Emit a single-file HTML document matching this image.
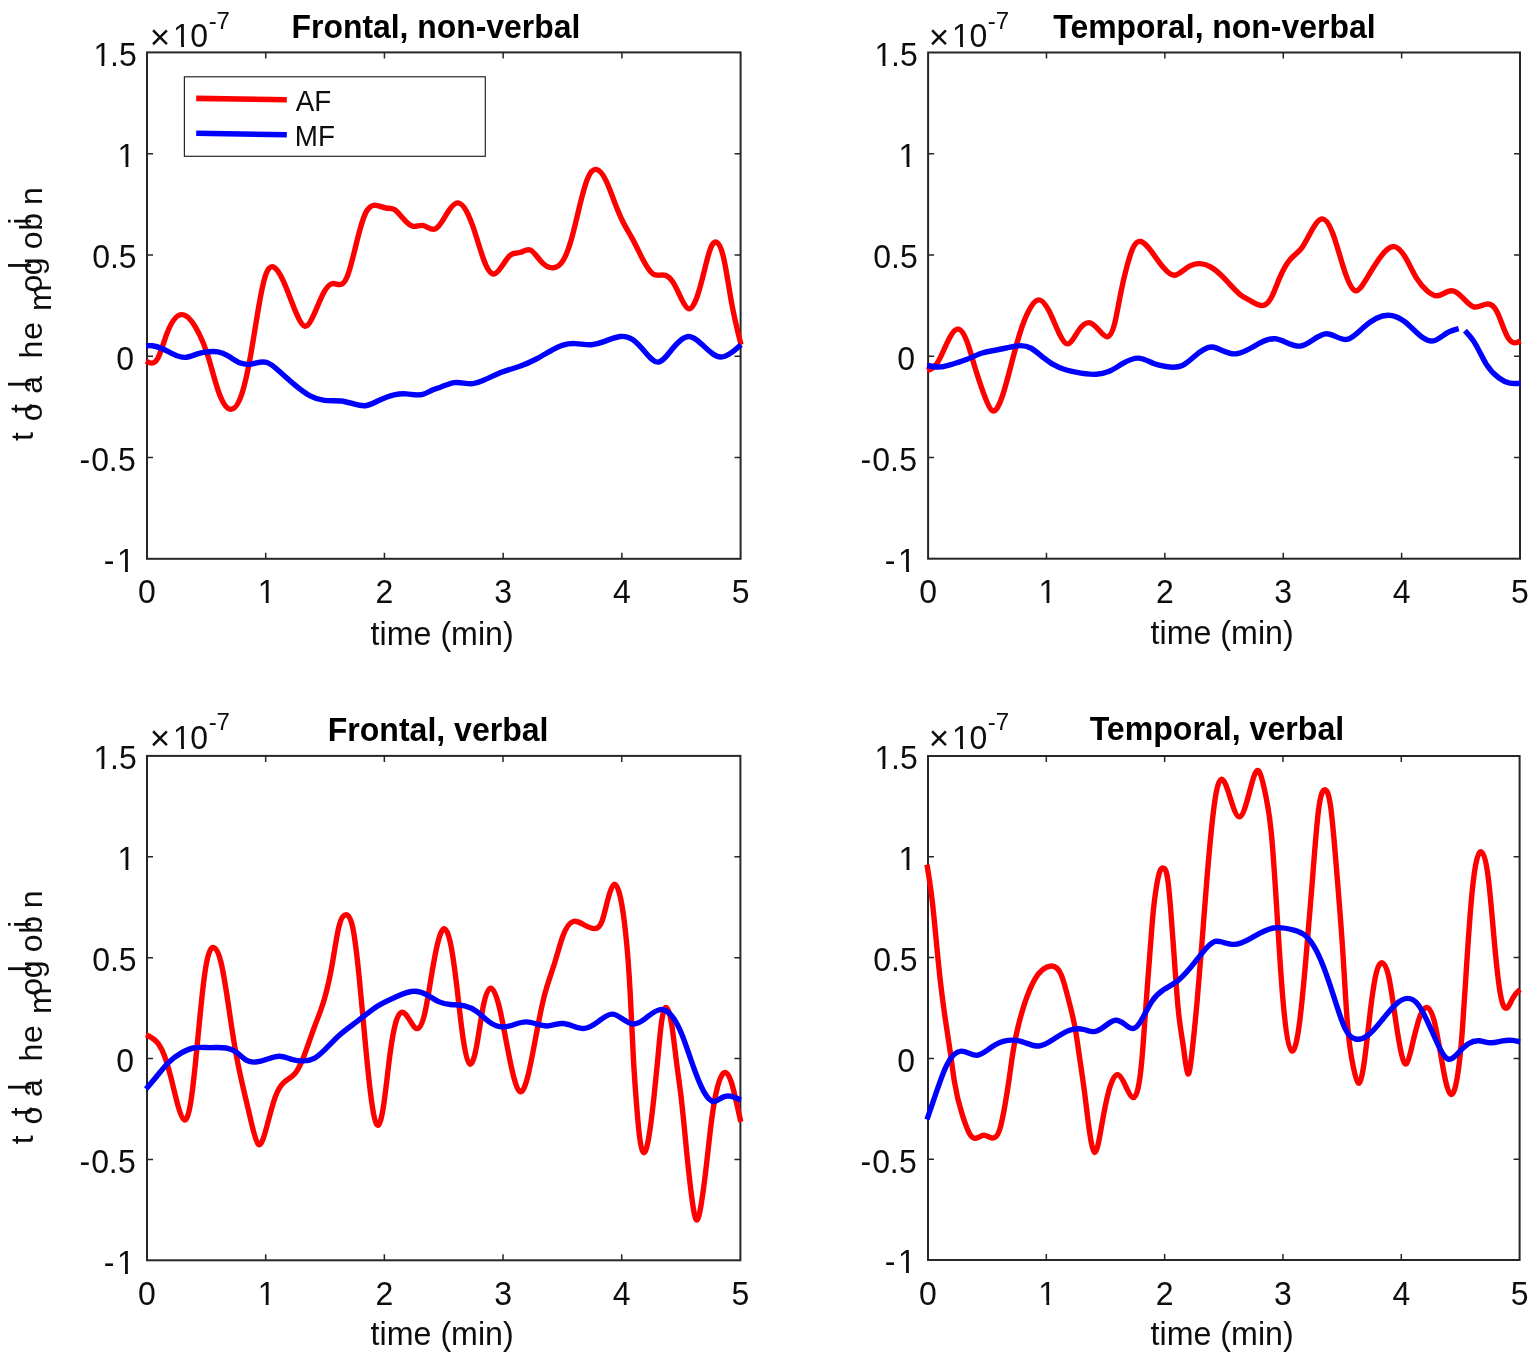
<!DOCTYPE html><html><head><meta charset="utf-8"><title>Total hemoglobin: AF vs MF</title><style>html,body{margin:0;padding:0;background:#fff;overflow:hidden}svg{display:block}text{font-family:"Liberation Sans",Arial,sans-serif}</style></head><body>
<svg width="1535" height="1367" viewBox="0 0 1535 1367">
<rect width="1535" height="1367" fill="#fff"/>
<path d="M265.72,558.8v-6M265.72,52.4v6M384.44,558.8v-6M384.44,52.4v6M503.16,558.8v-6M503.16,52.4v6M621.88,558.8v-6M621.88,52.4v6M147,153.68h6M740.6,153.68h-6M147,254.96h6M740.6,254.96h-6M147,356.24h6M740.6,356.24h-6M147,457.52h6M740.6,457.52h-6" stroke="#262626" stroke-width="1.5" fill="none"/>
<rect x="147" y="52.4" width="593.6" height="506.4" fill="none" stroke="#262626" stroke-width="2"/>
<g fill="none" stroke-width="5.4" stroke-linejoin="round" stroke-linecap="butt">
<path stroke="#ff0000" d="M146,361.1C147.77,362.02 149.53,362.94 151.3,363.1C153.33,363.28 155.37,362.44 157.4,359C160.47,353.81 163.53,342.69 166.6,334.4C172.43,318.63 178.27,313.09 184.1,315C189.2,316.67 194.3,324.04 199.4,334.4C202.13,339.95 204.87,346.37 207.6,354.9C211.03,365.62 214.47,379.67 217.9,389.8C222,401.9 226.1,408.39 230.2,409.2C234.3,410.01 238.4,405.13 242.5,391.8C245.23,382.91 247.97,370.27 250.7,354.9C253.43,339.53 256.17,321.42 258.9,305.7C260.93,294 262.97,283.63 265,277C267.73,268.09 270.47,265.95 273.2,266.8C276.6,267.86 280,273.56 283.4,281.1C287.5,290.19 291.6,301.96 295.7,311.9C298.8,319.42 301.9,325.89 305,326.2C308.07,326.5 311.13,320.77 314.2,313.9C317.6,306.29 321,297.28 324.4,291.4C327.13,286.67 329.87,283.96 332.6,283.6C335.67,283.2 338.73,285.75 341.8,284.2C343.53,283.32 345.27,281.13 347,277C349.03,272.16 351.07,264.65 353.1,256.6C355.17,248.42 357.23,239.69 359.3,232C361.33,224.43 363.37,217.87 365.4,213.5C368.13,207.63 370.87,205.72 373.6,205.3C377.7,204.67 381.8,207.37 385.9,208C388.63,208.42 391.37,207.92 394.1,209.4C396.83,210.88 399.57,214.34 402.3,217.6C405.7,221.65 409.1,225.39 412.5,226.2C415.93,227.02 419.37,224.85 422.8,225.4C426.9,226.06 431,230.59 435.1,228.9C437.07,228.09 439.03,225.84 441,223C443.4,219.53 445.8,215.18 448.2,211.5C451.47,206.5 454.73,202.75 458,202.9C460.87,203.03 463.73,206.17 466.6,211.5C469.33,216.58 472.07,223.65 474.8,232C477.9,241.47 481,252.58 484.1,260.7C487.03,268.38 489.97,273.39 492.9,274C495.77,274.6 498.63,271 501.5,266.8C504.57,262.31 507.63,257.14 510.7,254.9C513.77,252.66 516.83,253.35 519.9,252.5C523.33,251.55 526.77,248.66 530.2,250C533.6,251.32 537,256.79 540.4,260.7C544.83,265.8 549.27,268.27 553.7,267.8C556.8,267.47 559.9,265.7 563,260.7C565.7,256.34 568.4,249.53 571.1,240.2C573.83,230.76 576.57,218.74 579.3,207.4C582.03,196.06 584.77,185.38 587.5,178.7C590.6,171.12 593.7,168.68 596.8,169.5C599.87,170.31 602.93,174.3 606,180.7C608.73,186.4 611.47,194.02 614.2,201.2C616.93,208.38 619.67,215.12 622.4,220.7C625.8,227.65 629.2,232.8 632.6,239.1C636.03,245.46 639.47,252.98 642.9,259.6C646.3,266.16 649.7,271.83 653.1,274C657.2,276.62 661.3,274.14 665.4,275.4C668.13,276.24 670.87,278.73 673.6,283.2C676.33,287.67 679.07,294.11 681.8,299.6C684.2,304.42 686.6,308.51 689,308.8C691.37,309.08 693.73,305.67 696.1,299.6C698.83,292.59 701.57,282.05 704.3,270.9C706.37,262.47 708.43,253.69 710.5,248.4C712.53,243.19 714.57,241.36 716.6,242.2C719,243.19 721.4,247.91 723.8,258.6C726.2,269.29 728.6,285.96 731,299.6C734.33,318.54 737.67,331.62 741,344.7"/>
<path stroke="#0000ff" d="M146,345.7C148.1,345.59 150.2,345.48 152.3,345.7C155.7,346.05 159.1,347.26 162.5,348.8C165.93,350.35 169.37,352.23 172.8,353.9C176.9,355.89 181,357.57 185.1,357.4C189.2,357.23 193.3,355.21 197.4,353.9C200.8,352.81 204.2,352.21 207.6,351.8C211.03,351.39 214.47,351.17 217.9,351.8C221.3,352.43 224.7,353.89 228.1,355.9C232.2,358.32 236.3,361.52 240.4,363.1C243.83,364.42 247.27,364.61 250.7,364.1C256.13,363.3 261.57,360.75 267,362.5C271.1,363.82 275.2,367.57 279.3,371.3C284.77,376.27 290.23,381.18 295.7,385.7C300.5,389.67 305.3,393.35 310.1,395.9C314.87,398.44 319.63,399.87 324.4,400.4C329.87,401.01 335.33,400.42 340.8,401C344.9,401.43 349,402.51 353.1,403.7C357.2,404.89 361.3,406.17 365.4,405.7C369.5,405.23 373.6,402.99 377.7,401C383.17,398.35 388.63,396.13 394.1,394.9C398.2,393.98 402.3,393.62 406.4,393.9C411.87,394.28 417.33,395.81 422.8,394.3C426.2,393.36 429.6,391.24 433,389.8C435.67,388.67 438.33,387.95 441,387C445.43,385.41 449.87,383.17 454.3,382.6C460.47,381.8 466.63,384.24 472.8,383.6C476.2,383.25 479.6,381.96 483,380.5C489.17,377.86 495.33,374.68 501.5,372.3C507.63,369.93 513.77,368.35 519.9,366.2C525.37,364.28 530.83,361.9 536.3,359C541.1,356.45 545.9,353.5 550.7,350.8C554.8,348.49 558.9,346.37 563,345.1C567.07,343.84 571.13,343.43 575.2,343.6C580.67,343.83 586.13,345.11 591.6,344.7C595.7,344.39 599.8,343.13 603.9,341.6C609.37,339.56 614.83,337.05 620.3,336.5C624.4,336.09 628.5,336.79 632.6,339.5C636.7,342.21 640.8,346.94 644.9,351.8C649.33,357.06 653.77,362.49 658.2,362.1C662.67,361.71 667.13,355.43 671.6,349.8C677.4,342.5 683.2,336.3 689,336.5C693.43,336.65 697.87,340.53 702.3,344.7C708.43,350.47 714.57,356.79 720.7,357C724.13,357.12 727.57,355.32 731,352.9C734.33,350.55 737.67,347.63 741,344.7"/>
</g>
<text x="138.1" y="603.3" font-size="32" fill="#0d0d0d" transform="matrix(1 0 0 1.063 0 -38.01)">0</text>
<text x="257.75" y="603.3" font-size="32" fill="#0d0d0d" transform="matrix(1 0 0 1.063 0 -38.01)">1</text>
<text x="375.54" y="603.3" font-size="32" fill="#0d0d0d" transform="matrix(1 0 0 1.063 0 -38.01)">2</text>
<text x="494.26" y="603.3" font-size="32" fill="#0d0d0d" transform="matrix(1 0 0 1.063 0 -38.01)">3</text>
<text x="612.98" y="603.3" font-size="32" fill="#0d0d0d" transform="matrix(1 0 0 1.063 0 -38.01)">4</text>
<text x="731.7" y="603.3" font-size="32" fill="#0d0d0d" transform="matrix(1 0 0 1.063 0 -38.01)">5</text>
<text x="93.4 109.9 118.95" y="65.76" font-size="32" fill="#0d0d0d" transform="matrix(1 0 0 1.063 0 -4.14)">1.5</text>
<text x="117.5" y="167.04" font-size="32" fill="#0d0d0d" transform="matrix(1 0 0 1.063 0 -10.52)">1</text>
<text x="92.25 109.9 118.85" y="268.32" font-size="32" fill="#0d0d0d" transform="matrix(1 0 0 1.063 0 -16.9)">0.5</text>
<text x="116.15" y="369.6" font-size="32" fill="#0d0d0d" transform="matrix(1 0 0 1.063 0 -23.28)">0</text>
<text x="79.5 91.15 108.8 118.05" y="470.88" font-size="32" fill="#0d0d0d" transform="matrix(1 0 0 1.063 0 -29.67)">-0.5</text>
<text x="103.7 117" y="572.16" font-size="32" fill="#0d0d0d" transform="matrix(1 0 0 1.063 0 -36.05)">-1</text>
<text x="149.77" y="49.06" font-size="35" fill="#0d0d0d">×</text>
<text x="173.12 190.25" y="47.5" font-size="32" fill="#0d0d0d" transform="matrix(1 0 0 1.063 0 -2.99)">10</text>
<text x="208.63 216.57" y="28.8" font-size="24" fill="#0d0d0d">-7</text>
<text x="370.62" y="644.8" font-size="32" fill="#0d0d0d" textLength="143.08" lengthAdjust="spacingAndGlyphs" transform="matrix(1 0 0 1.063 0 -40.62)">time (min)</text>
<text x="291.56" y="38.1" font-size="32" font-weight="bold" fill="#000" textLength="288.71" lengthAdjust="spacingAndGlyphs" transform="matrix(1 0 0 1.063 0 -2.4)">Frontal, non-verbal</text>
<path d="M1046.48,558.7v-6M1046.48,52.5v6M1164.86,558.7v-6M1164.86,52.5v6M1283.24,558.7v-6M1283.24,52.5v6M1401.62,558.7v-6M1401.62,52.5v6M928.1,153.74h6M1520,153.74h-6M928.1,254.98h6M1520,254.98h-6M928.1,356.22h6M1520,356.22h-6M928.1,457.46h6M1520,457.46h-6" stroke="#262626" stroke-width="1.5" fill="none"/>
<rect x="928.1" y="52.5" width="591.9" height="506.2" fill="none" stroke="#262626" stroke-width="2"/>
<g fill="none" stroke-width="5.4" stroke-linejoin="round" stroke-linecap="butt">
<path stroke="#ff0000" d="M927.1,370.6C930.2,369.61 933.3,368.63 936.4,364.4C939.8,359.76 943.2,351.22 946.6,343.9C950.57,335.36 954.53,328.48 958.5,329.2C961.37,329.72 964.23,334.22 967.1,341.9C969.83,349.22 972.57,359.44 975.3,368.5C978.03,377.56 980.77,385.48 983.5,393.1C986.37,401.09 989.23,408.75 992.1,410.5C995.4,412.51 998.7,406.68 1002,397.2C1004.73,389.35 1007.47,379 1010.2,368.5C1013.6,355.44 1017,342.14 1020.4,331.6C1023.13,323.13 1025.87,316.44 1028.6,311.1C1031.87,304.71 1035.13,300.24 1038.4,299.9C1041.97,299.53 1045.53,304.09 1049.1,311.1C1052.5,317.78 1055.9,326.68 1059.3,333.7C1062.2,339.69 1065.1,344.3 1068,343.9C1071.27,343.45 1074.53,336.63 1077.8,331.6C1081.9,325.28 1086,321.77 1090.1,322.8C1093.5,323.66 1096.9,327.64 1100.3,331.6C1102.7,334.39 1105.1,337.18 1107.5,336.8C1109.9,336.42 1112.3,332.89 1114.7,323.4C1116.73,315.36 1118.77,303.03 1120.8,292.7C1122.87,282.2 1124.93,273.75 1127,266.1C1129.03,258.58 1131.07,251.83 1133.1,247.6C1135.7,242.19 1138.3,240.88 1140.9,241.5C1144.47,242.36 1148.03,246.86 1151.6,251.7C1155.7,257.27 1159.8,263.3 1163.9,268.1C1167.3,272.08 1170.7,275.23 1174.1,275.3C1178.2,275.39 1182.3,271.02 1186.4,268.1C1190.83,264.95 1195.27,263.5 1199.7,263.6C1203.47,263.68 1207.23,264.88 1211,267.1C1214.67,269.26 1218.33,272.38 1222,276C1224.07,278.04 1226.13,280.24 1228.2,282.5C1232.3,286.97 1236.4,291.65 1240.5,294.8C1243.9,297.41 1247.3,298.96 1250.7,300.9C1254.8,303.24 1258.9,306.14 1263,305.4C1265.73,304.9 1268.47,302.79 1271.2,297.8C1273.93,292.81 1276.67,284.96 1279.4,278.4C1282.83,270.16 1286.27,263.97 1289.7,259.9C1293.8,255.04 1297.9,253.22 1302,247.6C1304.73,243.85 1307.47,238.42 1310.2,233.3C1314.3,225.61 1318.4,218.62 1322.5,218.9C1325.9,219.13 1329.3,224.36 1332.7,233.3C1336.13,242.32 1339.57,255.13 1343,266.1C1347.07,279.1 1351.13,289.53 1355.2,290.7C1358.63,291.69 1362.07,286.08 1365.5,280.4C1370.27,272.52 1375.03,264.52 1379.8,257.9C1384.6,251.24 1389.4,245.99 1394.2,246.6C1397.6,247.04 1401,250.41 1404.4,255.8C1408.5,262.29 1412.6,271.71 1416.7,278.4C1420.13,284.01 1423.57,287.71 1427,290.7C1430.4,293.67 1433.8,295.94 1437.2,295.8C1442,295.6 1446.8,290.59 1451.6,290.7C1455,290.78 1458.4,293.42 1461.8,296.8C1465.9,300.88 1470,306.02 1474.1,307C1478.87,308.14 1483.63,303.64 1488.4,304C1491.13,304.2 1493.87,306 1496.6,311.1C1500.03,317.5 1503.47,329.11 1506.9,335.7C1509.63,340.94 1512.37,343 1515.1,342.9C1516.87,342.83 1518.63,341.87 1520.4,340.9"/>
<path stroke="#0000ff" d="M927.1,365.5C931.57,366.37 936.03,367.24 940.5,366.9C944.6,366.58 948.7,365.24 952.8,364C957.57,362.55 962.33,361.23 967.1,359.3C971.9,357.35 976.7,354.78 981.5,353.2C985.6,351.85 989.7,351.23 993.8,350.5C997.9,349.77 1002,348.95 1006.1,348C1010.87,346.9 1015.63,345.63 1020.4,345.6C1023.83,345.58 1027.27,346.2 1030.7,348C1034.8,350.15 1038.9,353.99 1043,357.3C1048.43,361.69 1053.87,365.15 1059.3,367.5C1064.77,369.87 1070.23,371.11 1075.7,372.2C1082.53,373.56 1089.37,374.67 1096.2,374.3C1100.3,374.08 1104.4,373.33 1108.5,371.6C1113.3,369.58 1118.1,366.21 1122.9,363.4C1128.7,360.01 1134.5,357.43 1140.3,358.3C1144.73,358.97 1149.17,361.66 1153.6,363.4C1157.7,365.01 1161.8,365.82 1165.9,366.5C1171.37,367.41 1176.83,368.1 1182.3,365.5C1186.4,363.55 1190.5,359.75 1194.6,356.2C1200.4,351.18 1206.2,346.66 1212,347C1215.33,347.19 1218.67,348.99 1222,350.5C1226.8,352.67 1231.6,354.24 1236.4,353.8C1241.87,353.3 1247.33,350.2 1252.8,347C1260.3,342.61 1267.8,338.03 1275.3,338.8C1283.83,339.68 1292.37,347.47 1300.9,346C1309.47,344.52 1318.03,333.69 1326.6,333.7C1333.4,333.71 1340.2,340.54 1347,339.4C1352.47,338.49 1357.93,332.43 1363.4,327.5C1371.6,320.11 1379.8,315.27 1388,315.2C1393.47,315.15 1398.93,317.22 1404.4,321.4C1413.97,328.71 1423.53,342.48 1433.1,340.9C1437.9,340.11 1442.7,335.45 1447.5,332.7C1451.23,330.56 1454.97,329.58 1458.7,328.6"/>
<path stroke="#0000ff" d="M1464.9,330.6C1467.97,333.82 1471.03,337.04 1474.1,341.9C1478.2,348.39 1482.3,357.81 1486.4,364.4C1490.5,370.99 1494.6,374.75 1498.7,377.7C1502.1,380.14 1505.5,382.03 1508.9,382.9C1512.73,383.89 1516.57,383.59 1520.4,383.3"/>
</g>
<text x="919.2" y="603.2" font-size="32" fill="#0d0d0d" transform="matrix(1 0 0 1.063 0 -38)">0</text>
<text x="1038.51" y="603.2" font-size="32" fill="#0d0d0d" transform="matrix(1 0 0 1.063 0 -38)">1</text>
<text x="1155.96" y="603.2" font-size="32" fill="#0d0d0d" transform="matrix(1 0 0 1.063 0 -38)">2</text>
<text x="1274.34" y="603.2" font-size="32" fill="#0d0d0d" transform="matrix(1 0 0 1.063 0 -38)">3</text>
<text x="1392.72" y="603.2" font-size="32" fill="#0d0d0d" transform="matrix(1 0 0 1.063 0 -38)">4</text>
<text x="1511.1" y="603.2" font-size="32" fill="#0d0d0d" transform="matrix(1 0 0 1.063 0 -38)">5</text>
<text x="874.5 891 900.05" y="65.86" font-size="32" fill="#0d0d0d" transform="matrix(1 0 0 1.063 0 -4.15)">1.5</text>
<text x="898.6" y="167.1" font-size="32" fill="#0d0d0d" transform="matrix(1 0 0 1.063 0 -10.53)">1</text>
<text x="873.35 891 899.95" y="268.34" font-size="32" fill="#0d0d0d" transform="matrix(1 0 0 1.063 0 -16.91)">0.5</text>
<text x="897.25" y="369.58" font-size="32" fill="#0d0d0d" transform="matrix(1 0 0 1.063 0 -23.28)">0</text>
<text x="860.6 872.25 889.9 899.15" y="470.82" font-size="32" fill="#0d0d0d" transform="matrix(1 0 0 1.063 0 -29.66)">-0.5</text>
<text x="884.8 898.1" y="572.06" font-size="32" fill="#0d0d0d" transform="matrix(1 0 0 1.063 0 -36.04)">-1</text>
<text x="928.87" y="49.06" font-size="35" fill="#0d0d0d">×</text>
<text x="952.12 969.55" y="47.5" font-size="32" fill="#0d0d0d" transform="matrix(1 0 0 1.063 0 -2.99)">10</text>
<text x="987.73 995.67" y="28.8" font-size="24" fill="#0d0d0d">-7</text>
<text x="1150.62" y="644.3" font-size="32" fill="#0d0d0d" textLength="143.08" lengthAdjust="spacingAndGlyphs" transform="matrix(1 0 0 1.063 0 -40.59)">time (min)</text>
<text x="1053.34" y="37.6" font-size="32" font-weight="bold" fill="#000" textLength="322.23" lengthAdjust="spacingAndGlyphs" transform="matrix(1 0 0 1.063 0 -2.37)">Temporal, non-verbal</text>
<path d="M265.68,1260.3v-6M265.68,755.9v6M384.36,1260.3v-6M384.36,755.9v6M503.04,1260.3v-6M503.04,755.9v6M621.72,1260.3v-6M621.72,755.9v6M147,856.78h6M740.4,856.78h-6M147,957.66h6M740.4,957.66h-6M147,1058.54h6M740.4,1058.54h-6M147,1159.42h6M740.4,1159.42h-6" stroke="#262626" stroke-width="1.5" fill="none"/>
<rect x="147" y="755.9" width="593.4" height="504.4" fill="none" stroke="#262626" stroke-width="2"/>
<g fill="none" stroke-width="5.4" stroke-linejoin="round" stroke-linecap="butt">
<path stroke="#ff0000" d="M146,1034.7C150.13,1036.43 154.27,1038.15 158.4,1043.9C160.47,1046.77 162.53,1050.65 164.6,1056.2C166.63,1061.66 168.67,1068.73 170.7,1076.7C173.1,1086.1 175.5,1096.74 177.9,1105.4C179.97,1112.86 182.03,1118.84 184.1,1119.8C186.13,1120.74 188.17,1116.82 190.2,1105.4C191.9,1095.85 193.6,1081.07 195.3,1064.4C197.03,1047.4 198.77,1028.44 200.5,1011.1C202.2,994.09 203.9,978.64 205.6,968.1C208.33,951.16 211.07,946.93 213.8,947.6C216.17,948.18 218.53,952.43 220.9,962C223.3,971.7 225.7,986.88 228.1,1003C230.17,1016.88 232.23,1031.48 234.3,1043.9C237.03,1060.33 239.77,1072.97 242.5,1084.9C245.23,1096.83 247.97,1108.04 250.7,1119.8C253.27,1130.85 255.83,1142.38 258.4,1144.3C261.27,1146.44 264.13,1136.6 267,1125.9C269.73,1115.7 272.47,1104.73 275.2,1097.2C277.93,1089.67 280.67,1085.57 283.4,1082.9C287.5,1078.9 291.6,1078.1 295.7,1072.6C298.43,1068.93 301.17,1063.17 303.9,1056.2C307.33,1047.44 310.77,1036.78 314.2,1027.5C317.6,1018.31 321,1010.49 324.4,998.9C327.13,989.59 329.87,977.84 332.6,962C334.67,950.02 336.73,935.71 338.8,927.1C341.17,917.24 343.53,914.88 345.9,914.8C348.3,914.72 350.7,916.99 353.1,929.2C355.17,939.71 357.23,957.6 359.3,978.4C361.33,998.87 363.37,1022.16 365.4,1043.9C367.47,1066 369.53,1086.5 371.6,1101.3C373.43,1114.43 375.27,1123.08 377.1,1124.9C379.37,1127.15 381.63,1118.96 383.9,1103.4C385.93,1089.44 387.97,1069.54 390,1054.2C392.03,1038.86 394.07,1028.06 396.1,1021.4C398.17,1014.63 400.23,1012.12 402.3,1012.2C405.03,1012.31 407.77,1016.94 410.5,1021.4C412.9,1025.31 415.3,1029.09 417.7,1028.6C420.07,1028.11 422.43,1023.48 424.8,1013.2C426.87,1004.23 428.93,990.95 431,978.4C433.03,966.05 435.07,954.41 437.1,945.6C439.63,934.63 442.17,928.07 444.7,928.8C446.53,929.33 448.37,933.67 450.2,942C452.27,951.39 454.33,965.83 456.4,983C458.43,999.9 460.47,1019.44 462.5,1034.2C464.9,1051.63 467.3,1062.4 469.7,1063.9C472.1,1065.4 474.5,1057.64 476.9,1044.4C478.93,1033.19 480.97,1018.05 483,1007.5C485.6,994.01 488.2,988.03 490.8,988.1C493.67,988.17 496.53,995.6 499.4,1007.5C502.13,1018.85 504.87,1034.27 507.6,1048.5C509.67,1059.26 511.73,1069.33 513.8,1077.2C515.83,1084.94 517.87,1090.54 519.9,1091.6C522.63,1093.03 525.37,1086.26 528.1,1075.2C530.83,1064.14 533.57,1048.78 536.3,1034.2C539.03,1019.62 541.77,1005.82 544.5,995.2C547.93,981.87 551.37,973.56 554.8,962.5C557.53,953.69 560.27,943.14 563,935.8C566.4,926.67 569.8,922.52 573.2,921.5C576.6,920.48 580,922.57 583.4,924.5C587.17,926.63 590.93,928.55 594.7,928.6C597.1,928.63 599.5,927.9 601.9,921.5C603.93,916.08 605.97,906.59 608,898.9C610.2,890.58 612.4,884.38 614.6,884.2C616.5,884.04 618.4,888.37 620.3,896.9C622.03,904.68 623.77,915.94 625.5,931.7C627.07,945.94 628.63,963.85 630.2,993.2C631.3,1013.81 632.4,1040.06 633.5,1060C634.4,1076.31 635.3,1088.41 636.2,1100C637.13,1112.02 638.07,1123.51 639,1132C640.4,1144.73 641.8,1150.7 643.2,1152.2C644.97,1154.09 646.73,1148.85 648.5,1139C650.23,1129.34 651.97,1115.25 653.7,1099.5C654.97,1087.99 656.23,1075.59 657.5,1062C658.77,1048.41 660.03,1033.61 661.3,1023.9C663,1010.86 664.7,1006.98 666.4,1007.5C668.13,1008.03 669.87,1013.15 671.6,1023.9C673.23,1034.03 674.87,1049.18 676.5,1062C678.13,1074.82 679.77,1085.33 681.4,1099.5C683.17,1114.83 684.93,1134.45 686.7,1152.2C688.43,1169.62 690.17,1185.23 691.9,1198.3C693.23,1208.35 694.57,1216.89 695.9,1219.3C697.63,1222.43 699.37,1215.2 701.1,1204.9C702.87,1194.4 704.63,1180.72 706.4,1165.3C708.17,1149.88 709.93,1132.71 711.7,1119.3C713.47,1105.89 715.23,1096.25 717,1089C719.63,1078.2 722.27,1072.73 724.9,1072.5C727.07,1072.31 729.23,1075.66 731.4,1082.4C733.17,1087.89 734.93,1095.63 736.7,1103.5C738.07,1109.58 739.43,1115.74 740.8,1121.9"/>
<path stroke="#0000ff" d="M146,1089C149.47,1084.96 152.93,1080.93 156.4,1076.7C160.5,1071.7 164.6,1066.43 168.7,1062.4C172.8,1058.37 176.9,1055.57 181,1053.2C185.1,1050.83 189.2,1048.88 193.3,1048C198.77,1046.82 204.23,1047.53 209.7,1047.6C215.17,1047.67 220.63,1047.11 226.1,1048C229.5,1048.55 232.9,1049.67 236.3,1052.1C239.73,1054.56 243.17,1058.36 246.6,1060.3C249.67,1062.03 252.73,1062.27 255.8,1062C259.53,1061.68 263.27,1060.61 267,1059.3C271.1,1057.86 275.2,1056.14 279.3,1056.2C283.4,1056.26 287.5,1058.1 291.6,1059.3C295.7,1060.5 299.8,1061.05 303.9,1060.9C307.33,1060.77 310.77,1060.15 314.2,1058.3C317.6,1056.47 321,1053.44 324.4,1050.1C329.2,1045.39 334,1040.08 338.8,1035.7C344.93,1030.11 351.07,1026.05 357.2,1021.4C364.03,1016.22 370.87,1010.32 377.7,1006C383.83,1002.12 389.97,999.51 396.1,996.8C402.27,994.08 408.43,991.26 414.6,991.3C418.7,991.33 422.8,992.61 426.9,994.8C431,996.99 435.1,1000.07 439.2,1001.9C442.87,1003.54 446.53,1004.17 450.2,1004.5C455,1004.93 459.8,1004.83 464.6,1005.9C468.7,1006.81 472.8,1008.58 476.9,1011.6C481,1014.62 485.1,1018.9 489.2,1021.9C493.97,1025.38 498.73,1027.13 503.5,1027C511.03,1026.79 518.57,1021.86 526.1,1021.9C532.93,1021.93 539.77,1026.04 546.6,1026C552.07,1025.97 557.53,1023.28 563,1023.5C570.17,1023.79 577.33,1029.1 584.5,1028.4C588.93,1027.97 593.37,1025.23 597.8,1021.9C602.57,1018.32 607.33,1014.04 612.1,1014.1C615.53,1014.15 618.97,1016.44 622.4,1018.8C625.8,1021.13 629.2,1023.52 632.6,1023.9C636.7,1024.36 640.8,1021.89 644.9,1018.8C650.03,1014.93 655.17,1010.1 660.3,1009.6C664.07,1009.24 667.83,1011.21 671.6,1015.7C675,1019.75 678.4,1025.86 681.8,1034.2C685.2,1042.54 688.6,1053.11 692,1062.9C695.93,1074.22 699.87,1084.5 703.8,1091.6C707.3,1097.92 710.8,1101.73 714.3,1101.5C716.93,1101.33 719.57,1098.88 722.2,1097.5C724.83,1096.12 727.47,1095.82 730.1,1096.2C733.67,1096.71 737.23,1098.45 740.8,1100.2"/>
</g>
<text x="138.1" y="1304.8" font-size="32" fill="#0d0d0d" transform="matrix(1 0 0 1.063 0 -82.2)">0</text>
<text x="257.71" y="1304.8" font-size="32" fill="#0d0d0d" transform="matrix(1 0 0 1.063 0 -82.2)">1</text>
<text x="375.46" y="1304.8" font-size="32" fill="#0d0d0d" transform="matrix(1 0 0 1.063 0 -82.2)">2</text>
<text x="494.14" y="1304.8" font-size="32" fill="#0d0d0d" transform="matrix(1 0 0 1.063 0 -82.2)">3</text>
<text x="612.82" y="1304.8" font-size="32" fill="#0d0d0d" transform="matrix(1 0 0 1.063 0 -82.2)">4</text>
<text x="731.5" y="1304.8" font-size="32" fill="#0d0d0d" transform="matrix(1 0 0 1.063 0 -82.2)">5</text>
<text x="93.4 109.9 118.95" y="769.26" font-size="32" fill="#0d0d0d" transform="matrix(1 0 0 1.063 0 -48.46)">1.5</text>
<text x="117.5" y="870.14" font-size="32" fill="#0d0d0d" transform="matrix(1 0 0 1.063 0 -54.82)">1</text>
<text x="92.25 109.9 118.85" y="971.02" font-size="32" fill="#0d0d0d" transform="matrix(1 0 0 1.063 0 -61.17)">0.5</text>
<text x="116.15" y="1071.9" font-size="32" fill="#0d0d0d" transform="matrix(1 0 0 1.063 0 -67.53)">0</text>
<text x="79.5 91.15 108.8 118.05" y="1172.78" font-size="32" fill="#0d0d0d" transform="matrix(1 0 0 1.063 0 -73.89)">-0.5</text>
<text x="103.7 117" y="1273.66" font-size="32" fill="#0d0d0d" transform="matrix(1 0 0 1.063 0 -80.24)">-1</text>
<text x="149.77" y="750.16" font-size="35" fill="#0d0d0d">×</text>
<text x="173.12 190.25" y="748.9" font-size="32" fill="#0d0d0d" transform="matrix(1 0 0 1.063 0 -47.18)">10</text>
<text x="208.63 216.57" y="730.2" font-size="24" fill="#0d0d0d">-7</text>
<text x="370.62" y="1345.4" font-size="32" fill="#0d0d0d" textLength="143.08" lengthAdjust="spacingAndGlyphs" transform="matrix(1 0 0 1.063 0 -84.76)">time (min)</text>
<text x="327.76" y="740.7" font-size="32" font-weight="bold" fill="#000" textLength="220.71" lengthAdjust="spacingAndGlyphs" transform="matrix(1 0 0 1.063 0 -46.66)">Frontal, verbal</text>
<path d="M1046.32,1260v-6M1046.32,756v6M1164.64,1260v-6M1164.64,756v6M1282.96,1260v-6M1282.96,756v6M1401.28,1260v-6M1401.28,756v6M928,856.8h6M1519.6,856.8h-6M928,957.6h6M1519.6,957.6h-6M928,1058.4h6M1519.6,1058.4h-6M928,1159.2h6M1519.6,1159.2h-6" stroke="#262626" stroke-width="1.5" fill="none"/>
<rect x="928" y="756" width="591.6" height="504" fill="none" stroke="#262626" stroke-width="2"/>
<g fill="none" stroke-width="5.4" stroke-linejoin="round" stroke-linecap="butt">
<path stroke="#ff0000" d="M927,864.6C928.77,875.36 930.53,886.13 932.3,901.5C934.33,919.19 936.37,942.99 938.4,963C940.47,983.34 942.53,999.77 944.6,1014.2C946.63,1028.4 948.67,1040.67 950.7,1055.2C951.9,1063.77 953.1,1073.13 954.3,1080.8C957,1098.05 959.7,1106.75 962.4,1115.1C965.1,1123.45 967.8,1131.47 970.5,1135.3C972.17,1137.66 973.83,1138.43 975.5,1138.3C978.2,1138.09 980.9,1135.52 983.6,1135.3C986.3,1135.08 989,1137.21 991.7,1137.9C994.4,1138.59 997.1,1137.85 999.8,1129.2C1001.53,1123.65 1003.27,1114.84 1005,1105C1006.33,1097.43 1007.67,1089.25 1009,1080C1010.33,1070.75 1011.67,1060.44 1013,1052C1014.67,1041.45 1016.33,1033.84 1018,1027C1020.17,1018.11 1022.33,1010.54 1024.5,1003.9C1027.93,993.38 1031.37,985.19 1034.8,979.3C1040.23,969.97 1045.67,966.39 1051.1,966C1054.53,965.76 1057.97,966.79 1061.4,975.2C1064.13,981.9 1066.87,993.27 1069.6,1003.9C1071.57,1011.55 1073.53,1018.81 1075.5,1030.3C1076.5,1036.14 1077.5,1043.07 1078.5,1050C1079.5,1056.93 1080.5,1063.85 1081.5,1070.7C1082.5,1077.55 1083.5,1084.33 1084.5,1092C1085.53,1099.93 1086.57,1108.81 1087.6,1117.1C1089.97,1136.1 1092.33,1152.02 1094.7,1152.5C1097.03,1152.98 1099.37,1138.45 1101.7,1125.2C1104.07,1111.76 1106.43,1099.65 1108.8,1090.9C1111.83,1079.69 1114.87,1074.02 1117.9,1074.7C1120.6,1075.3 1123.3,1080.93 1126,1086.8C1128.33,1091.87 1130.67,1097.11 1133,1097.6C1134.7,1097.95 1136.4,1095.78 1138.1,1088.1C1139.37,1082.38 1140.63,1073.6 1141.9,1059.5C1142.87,1048.74 1143.83,1034.88 1144.8,1021.4C1145.73,1008.38 1146.67,995.71 1147.6,983.3C1148.57,970.45 1149.53,957.88 1150.5,945.2C1151.43,932.95 1152.37,920.59 1153.3,911C1154.27,901.06 1155.23,894.09 1156.2,888.1C1157.47,880.25 1158.73,874.1 1160,871C1161.13,868.23 1162.27,867.91 1163.4,868.1C1164.8,868.33 1166.2,869.34 1167.6,878.6C1168.57,885 1169.53,895.33 1170.5,907.1C1171.57,920.09 1172.63,934.82 1173.7,950C1175.23,971.82 1176.77,994.55 1178.3,1010C1180.13,1028.47 1181.97,1036.54 1183.8,1049.9C1185.17,1059.86 1186.53,1072.76 1187.9,1074C1189.37,1075.33 1190.83,1063.24 1192.3,1049.9C1193.9,1035.35 1195.5,1019.32 1197.1,1001.5C1198.7,983.68 1200.3,964.07 1201.9,943.6C1203.53,922.7 1205.17,900.91 1206.8,880.8C1208.4,861.1 1210,843 1211.6,827.6C1213.2,812.2 1214.8,799.5 1216.4,791.4C1218.03,783.13 1219.67,779.65 1221.3,779.3C1224.1,778.71 1226.9,787.34 1229.7,796.2C1232.93,806.44 1236.17,816.99 1239.4,816.8C1242.6,816.61 1245.8,805.9 1249,793.8C1252.23,781.57 1255.47,767.93 1258.7,770.9C1261.1,773.1 1263.5,784.46 1265.9,796.2C1267.67,804.84 1269.43,813.69 1271.2,831.7C1272.93,849.37 1274.67,875.85 1276.4,903.4C1277.6,922.47 1278.8,942.05 1280,960C1281,974.96 1282,988.78 1283,1000.4C1285.9,1034.11 1288.8,1049.32 1291.7,1050.9C1294.4,1052.37 1297.1,1042.02 1299.8,1020.6C1301.8,1004.73 1303.8,982.79 1305.8,960C1307.93,935.7 1310.07,910.44 1312.2,883C1314.27,856.42 1316.33,827.8 1318.4,811.2C1320.57,793.8 1322.73,789.62 1324.9,789.7C1326.83,789.77 1328.77,793.24 1330.7,807.1C1332.73,821.68 1334.77,847.75 1336.8,872.7C1338.87,898.06 1340.93,922.26 1343,954.7C1344.4,976.68 1345.8,1002.44 1347.2,1020.6C1349.23,1046.98 1351.27,1057.34 1353.3,1067C1354.97,1074.91 1356.63,1082.35 1358.3,1083.2C1360.33,1084.23 1362.37,1075.45 1364.4,1061C1366.4,1046.79 1368.4,1027.09 1370.4,1010.5C1372.43,993.63 1374.47,979.96 1376.5,972.1C1378.53,964.24 1380.57,962.19 1382.6,963C1384.6,963.8 1386.6,967.37 1388.6,976.2C1390.97,986.65 1393.33,1004.46 1395.7,1020.6C1397.7,1034.24 1399.7,1046.69 1401.7,1054.9C1403.2,1061.06 1404.7,1064.82 1406.2,1064C1408.07,1062.98 1409.93,1054.84 1411.8,1046.8C1414.5,1035.16 1417.2,1023.71 1419.9,1016.5C1422.27,1010.18 1424.63,1007.11 1427,1007.5C1429.37,1007.89 1431.73,1011.72 1434.1,1020.6C1436.1,1028.1 1438.1,1039.2 1440.1,1050.9C1441.8,1060.85 1443.5,1071.22 1445.2,1079.1C1447.07,1087.75 1448.93,1093.38 1450.8,1094.3C1452.97,1095.37 1455.13,1090.1 1457.3,1077.1C1458.97,1067.1 1460.63,1052.53 1462.3,1030.7C1463.53,1014.55 1464.77,994.43 1466,975C1468,943.5 1470,913.83 1472,893.2C1475.23,859.84 1478.47,850.1 1481.7,852.2C1483.93,853.65 1486.17,860.76 1488.4,878.9C1490.47,895.68 1492.53,921.92 1494.6,944.4C1496.63,966.52 1498.67,985.02 1500.7,995.7C1502.77,1006.56 1504.83,1009.34 1506.9,1008C1508.93,1006.68 1510.97,1001.36 1513,997.7C1515.33,993.5 1517.67,991.5 1520,989.5"/>
<path stroke="#0000ff" d="M927,1119.5C930.13,1110.3 933.27,1101.1 936.4,1092C939.8,1082.12 943.2,1072.36 946.6,1065.4C951.4,1055.58 956.2,1051.35 961,1051.1C966.47,1050.81 971.93,1055.69 977.4,1055.2C982.17,1054.78 986.93,1050.28 991.7,1047C997.17,1043.24 1002.63,1041.09 1008.1,1040.4C1012.9,1039.79 1017.7,1040.31 1022.5,1041.8C1028.03,1043.52 1033.57,1046.55 1039.1,1046C1043.1,1045.6 1047.1,1043.34 1051.1,1040.8C1057.27,1036.89 1063.43,1032.35 1069.6,1030.2C1074.37,1028.54 1079.13,1028.32 1083.9,1029.5C1087.33,1030.35 1090.77,1031.94 1094.2,1031.6C1097.6,1031.27 1101,1029.05 1104.4,1026.5C1108.17,1023.68 1111.93,1020.45 1115.7,1020.3C1118.77,1020.18 1121.83,1022.1 1124.9,1024.4C1127.97,1026.7 1131.03,1029.39 1134.1,1028.3C1136.5,1027.45 1138.9,1024.29 1141.3,1020.3C1144.73,1014.59 1148.17,1007.19 1151.6,1001.9C1155.7,995.58 1159.8,992.27 1163.9,989.6C1168.67,986.5 1173.43,984.27 1178.2,980.4C1181.6,977.64 1185,974.05 1188.4,970.1C1192.5,965.33 1196.6,960.04 1200.7,954.8C1205.5,948.66 1210.3,942.6 1215.1,941.4C1217.4,940.83 1219.7,941.37 1222,942C1226.1,943.12 1230.2,944.52 1234.3,944.4C1239.77,944.24 1245.23,941.38 1250.7,938.3C1258.23,934.05 1265.77,929.37 1273.3,928C1280.13,926.76 1286.97,928.23 1293.8,930.1C1297.9,931.22 1302,932.48 1306.1,936.2C1309.5,939.28 1312.9,944.06 1316.3,950.6C1319.73,957.21 1323.17,965.61 1326.6,975.2C1330,984.7 1333.4,995.35 1336.8,1005.9C1339.53,1014.38 1342.27,1022.79 1345,1028.4C1348.5,1035.58 1352,1038.17 1355.5,1039C1359.47,1039.94 1363.43,1038.61 1367.4,1035.7C1372.13,1032.23 1376.87,1026.51 1381.6,1020.6C1386.3,1014.73 1391,1008.68 1395.7,1004.4C1399.73,1000.72 1403.77,998.35 1407.8,998.4C1411.17,998.44 1414.53,1000.18 1417.9,1004.4C1421.27,1008.62 1424.63,1015.32 1428,1022.6C1431.37,1029.88 1434.73,1037.75 1438.1,1044.8C1441.33,1051.57 1444.57,1057.6 1447.8,1059C1451.3,1060.51 1454.8,1056.6 1458.3,1052.9C1461.67,1049.34 1465.03,1045.97 1468.4,1043.8C1471.77,1041.63 1475.13,1040.68 1478.5,1040.8C1482.53,1040.95 1486.57,1042.65 1490.6,1042.8C1494.63,1042.95 1498.67,1041.55 1502.7,1040.8C1506.07,1040.18 1509.43,1040.01 1512.8,1040.4C1515.2,1040.68 1517.6,1041.24 1520,1041.8"/>
</g>
<text x="919.1" y="1304.5" font-size="32" fill="#0d0d0d" transform="matrix(1 0 0 1.063 0 -82.18)">0</text>
<text x="1038.35" y="1304.5" font-size="32" fill="#0d0d0d" transform="matrix(1 0 0 1.063 0 -82.18)">1</text>
<text x="1155.74" y="1304.5" font-size="32" fill="#0d0d0d" transform="matrix(1 0 0 1.063 0 -82.18)">2</text>
<text x="1274.06" y="1304.5" font-size="32" fill="#0d0d0d" transform="matrix(1 0 0 1.063 0 -82.18)">3</text>
<text x="1392.38" y="1304.5" font-size="32" fill="#0d0d0d" transform="matrix(1 0 0 1.063 0 -82.18)">4</text>
<text x="1510.7" y="1304.5" font-size="32" fill="#0d0d0d" transform="matrix(1 0 0 1.063 0 -82.18)">5</text>
<text x="874.4 890.9 899.95" y="769.36" font-size="32" fill="#0d0d0d" transform="matrix(1 0 0 1.063 0 -48.47)">1.5</text>
<text x="898.5" y="870.16" font-size="32" fill="#0d0d0d" transform="matrix(1 0 0 1.063 0 -54.82)">1</text>
<text x="873.25 890.9 899.85" y="970.96" font-size="32" fill="#0d0d0d" transform="matrix(1 0 0 1.063 0 -61.17)">0.5</text>
<text x="897.15" y="1071.76" font-size="32" fill="#0d0d0d" transform="matrix(1 0 0 1.063 0 -67.52)">0</text>
<text x="860.5 872.15 889.8 899.05" y="1172.56" font-size="32" fill="#0d0d0d" transform="matrix(1 0 0 1.063 0 -73.87)">-0.5</text>
<text x="884.7 898" y="1273.36" font-size="32" fill="#0d0d0d" transform="matrix(1 0 0 1.063 0 -80.22)">-1</text>
<text x="928.87" y="750.06" font-size="35" fill="#0d0d0d">×</text>
<text x="952.12 969.55" y="748.9" font-size="32" fill="#0d0d0d" transform="matrix(1 0 0 1.063 0 -47.18)">10</text>
<text x="987.73 995.67" y="730.2" font-size="24" fill="#0d0d0d">-7</text>
<text x="1150.62" y="1345.2" font-size="32" fill="#0d0d0d" textLength="143.08" lengthAdjust="spacingAndGlyphs" transform="matrix(1 0 0 1.063 0 -84.75)">time (min)</text>
<text x="1089.64" y="740.1" font-size="32" font-weight="bold" fill="#000" textLength="254.53" lengthAdjust="spacingAndGlyphs" transform="matrix(1 0 0 1.063 0 -46.63)">Temporal, verbal</text>
<rect x="184.4" y="76.8" width="300.9" height="79.5" fill="#fff" stroke="#262626" stroke-width="1.2"/>
<path d="M196.2,98.4L286.8,99.8" stroke="#ff0000" stroke-width="5.6"/>
<path d="M196.2,133.3L286.8,134.7" stroke="#0000ff" stroke-width="5.6"/>
<text x="295.7" y="111.1" font-size="27.8" fill="#0d0d0d" transform="matrix(1 0 0 1.063 0 -7)">AF</text>
<text x="294.8" y="145.8" font-size="27.8" fill="#0d0d0d" transform="matrix(1 0 0 1.063 0 -9.19)">MF</text>
<text transform="translate(32.95,440.98) rotate(-90)" font-size="32" fill="#0d0d0d">t</text>
<text transform="translate(41.89,421.24) rotate(-90)" font-size="32" fill="#0d0d0d">o</text>
<text transform="translate(32.35,412.98) rotate(-90)" font-size="32" fill="#0d0d0d">t</text>
<text transform="translate(41.89,393.86) rotate(-90)" font-size="32" fill="#0d0d0d">a</text>
<text transform="translate(31,387.66) rotate(-90)" font-size="32" fill="#0d0d0d">l</text>
<text transform="translate(41.9,358.42) rotate(-90)" font-size="32" fill="#0d0d0d">h</text>
<text transform="translate(41.99,339.86) rotate(-90)" font-size="32" fill="#0d0d0d">e</text>
<text transform="translate(50.7,310.92) rotate(-90)" font-size="32" fill="#0d0d0d">m</text>
<text transform="translate(41.59,292.44) rotate(-90)" font-size="32" fill="#0d0d0d">o</text>
<text transform="translate(41.66,275.14) rotate(-90)" font-size="32" fill="#0d0d0d">g</text>
<text transform="translate(31,269.06) rotate(-90)" font-size="32" fill="#0d0d0d">l</text>
<text transform="translate(41.89,249.14) rotate(-90)" font-size="32" fill="#0d0d0d">o</text>
<text transform="translate(41.69,230.66) rotate(-90)" font-size="32" fill="#0d0d0d">b</text>
<text transform="translate(31,224.74) rotate(-90)" font-size="32" fill="#0d0d0d">i</text>
<text transform="translate(41.7,205.02) rotate(-90)" font-size="32" fill="#0d0d0d">n</text>
<text transform="translate(32.95,1144.18) rotate(-90)" font-size="32" fill="#0d0d0d">t</text>
<text transform="translate(41.89,1124.44) rotate(-90)" font-size="32" fill="#0d0d0d">o</text>
<text transform="translate(32.35,1116.18) rotate(-90)" font-size="32" fill="#0d0d0d">t</text>
<text transform="translate(41.89,1097.06) rotate(-90)" font-size="32" fill="#0d0d0d">a</text>
<text transform="translate(31,1090.86) rotate(-90)" font-size="32" fill="#0d0d0d">l</text>
<text transform="translate(41.9,1061.62) rotate(-90)" font-size="32" fill="#0d0d0d">h</text>
<text transform="translate(41.99,1043.06) rotate(-90)" font-size="32" fill="#0d0d0d">e</text>
<text transform="translate(50.7,1014.12) rotate(-90)" font-size="32" fill="#0d0d0d">m</text>
<text transform="translate(41.59,995.64) rotate(-90)" font-size="32" fill="#0d0d0d">o</text>
<text transform="translate(41.66,978.34) rotate(-90)" font-size="32" fill="#0d0d0d">g</text>
<text transform="translate(31,972.26) rotate(-90)" font-size="32" fill="#0d0d0d">l</text>
<text transform="translate(41.89,952.34) rotate(-90)" font-size="32" fill="#0d0d0d">o</text>
<text transform="translate(41.69,933.86) rotate(-90)" font-size="32" fill="#0d0d0d">b</text>
<text transform="translate(31,927.94) rotate(-90)" font-size="32" fill="#0d0d0d">i</text>
<text transform="translate(41.7,908.22) rotate(-90)" font-size="32" fill="#0d0d0d">n</text>
<g fill="#fff"><rect x="258.75" y="600" width="7.05" height="4"/><rect x="268.62" y="600" width="6.73" height="4"/><rect x="94.4" y="63" width="7.05" height="4"/><rect x="104.28" y="63" width="6.73" height="4"/><rect x="118.5" y="164" width="7.05" height="4"/><rect x="128.38" y="164" width="6.73" height="4"/><rect x="118" y="569" width="7.05" height="4"/><rect x="127.88" y="569" width="6.73" height="4"/><rect x="174.12" y="44" width="7.05" height="5"/><rect x="184" y="44" width="6.73" height="5"/><rect x="1039.51" y="600" width="7.05" height="4"/><rect x="1049.38" y="600" width="6.73" height="4"/><rect x="875.5" y="63" width="7.05" height="4"/><rect x="885.38" y="63" width="6.73" height="4"/><rect x="899.6" y="164" width="7.05" height="4"/><rect x="909.48" y="164" width="6.73" height="4"/><rect x="899.1" y="569" width="7.05" height="4"/><rect x="908.98" y="569" width="6.73" height="4"/><rect x="953.12" y="44" width="7.05" height="5"/><rect x="963" y="44" width="6.73" height="5"/><rect x="258.71" y="1302" width="7.05" height="4"/><rect x="268.58" y="1302" width="6.73" height="4"/><rect x="94.4" y="766" width="7.05" height="4"/><rect x="104.28" y="766" width="6.73" height="4"/><rect x="118.5" y="867" width="7.05" height="4"/><rect x="128.38" y="867" width="6.73" height="4"/><rect x="118" y="1271" width="7.05" height="4"/><rect x="127.88" y="1271" width="6.73" height="4"/><rect x="174.12" y="746" width="7.05" height="4"/><rect x="184" y="746" width="6.73" height="4"/><rect x="1039.35" y="1301" width="7.05" height="5"/><rect x="1049.22" y="1301" width="6.73" height="5"/><rect x="875.4" y="766" width="7.05" height="4"/><rect x="885.27" y="766" width="6.73" height="4"/><rect x="899.5" y="867" width="7.05" height="4"/><rect x="909.38" y="867" width="6.73" height="4"/><rect x="899" y="1270" width="7.05" height="4"/><rect x="908.88" y="1270" width="6.73" height="4"/><rect x="953.12" y="746" width="7.05" height="4"/><rect x="963" y="746" width="6.73" height="4"/></g>
</svg></body></html>
